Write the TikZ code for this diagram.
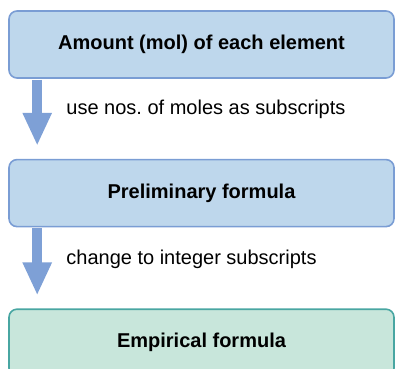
\documentclass[tikz,border=0pt]{standalone}
\usepackage{fontspec}
\setmainfont{Liberation Sans}
\usepackage{xcolor}
\usetikzlibrary{arrows.meta,positioning}
\definecolor{stepblue}{RGB}{190,215,236}
\definecolor{stepedge}{RGB}{122,157,212}
\definecolor{flowblue}{RGB}{126,160,214}
\definecolor{resultgreen}{RGB}{200,230,219}
\definecolor{resultedge}{RGB}{72,166,162}
\frenchspacing

\begin{document}
\begin{tikzpicture}[
  node distance=80pt,
  stepbox/.style={rectangle,rounded corners=8pt,draw=stepedge,line width=1.6pt,
    fill=stepblue,minimum width=385pt,minimum height=67pt,
    font=\fontsize{20}{24}\selectfont\bfseries},
  resultbox/.style={stepbox,draw=resultedge,fill=resultgreen},
  flow/.style={-{Triangle[width=27pt,length=33pt]},line width=10pt,color=flowblue,
    shorten <=1pt,shorten >=13pt},
  note/.style={inner sep=0pt,anchor=base west,font=\fontsize{20}{24}\selectfont}
]
\useasboundingbox (0,0) rectangle (395pt,-368pt);
\node[stepbox] (amount) at (201.5pt,-44.5pt) {Amount (mol) of each element};
\node[stepbox, below=of amount] (prelim) {Preliminary formula};
\node[resultbox, below=81pt of prelim] (empirical) {Empirical formula};

\draw[flow] ([xshift=29pt]amount.south west) -- ([xshift=29pt]prelim.north west);
\draw[flow] ([xshift=29pt]prelim.south west) -- ([xshift=29pt]empirical.north west);
\node[note] (usemoles) at ([xshift=58pt,yshift=-36pt]amount.south west)
  {use nos. of moles as subscripts};
\node[note] (tointeger) at ([xshift=58pt,yshift=-37pt]prelim.south west)
  {change to integer subscripts};
\end{tikzpicture}
\end{document}
